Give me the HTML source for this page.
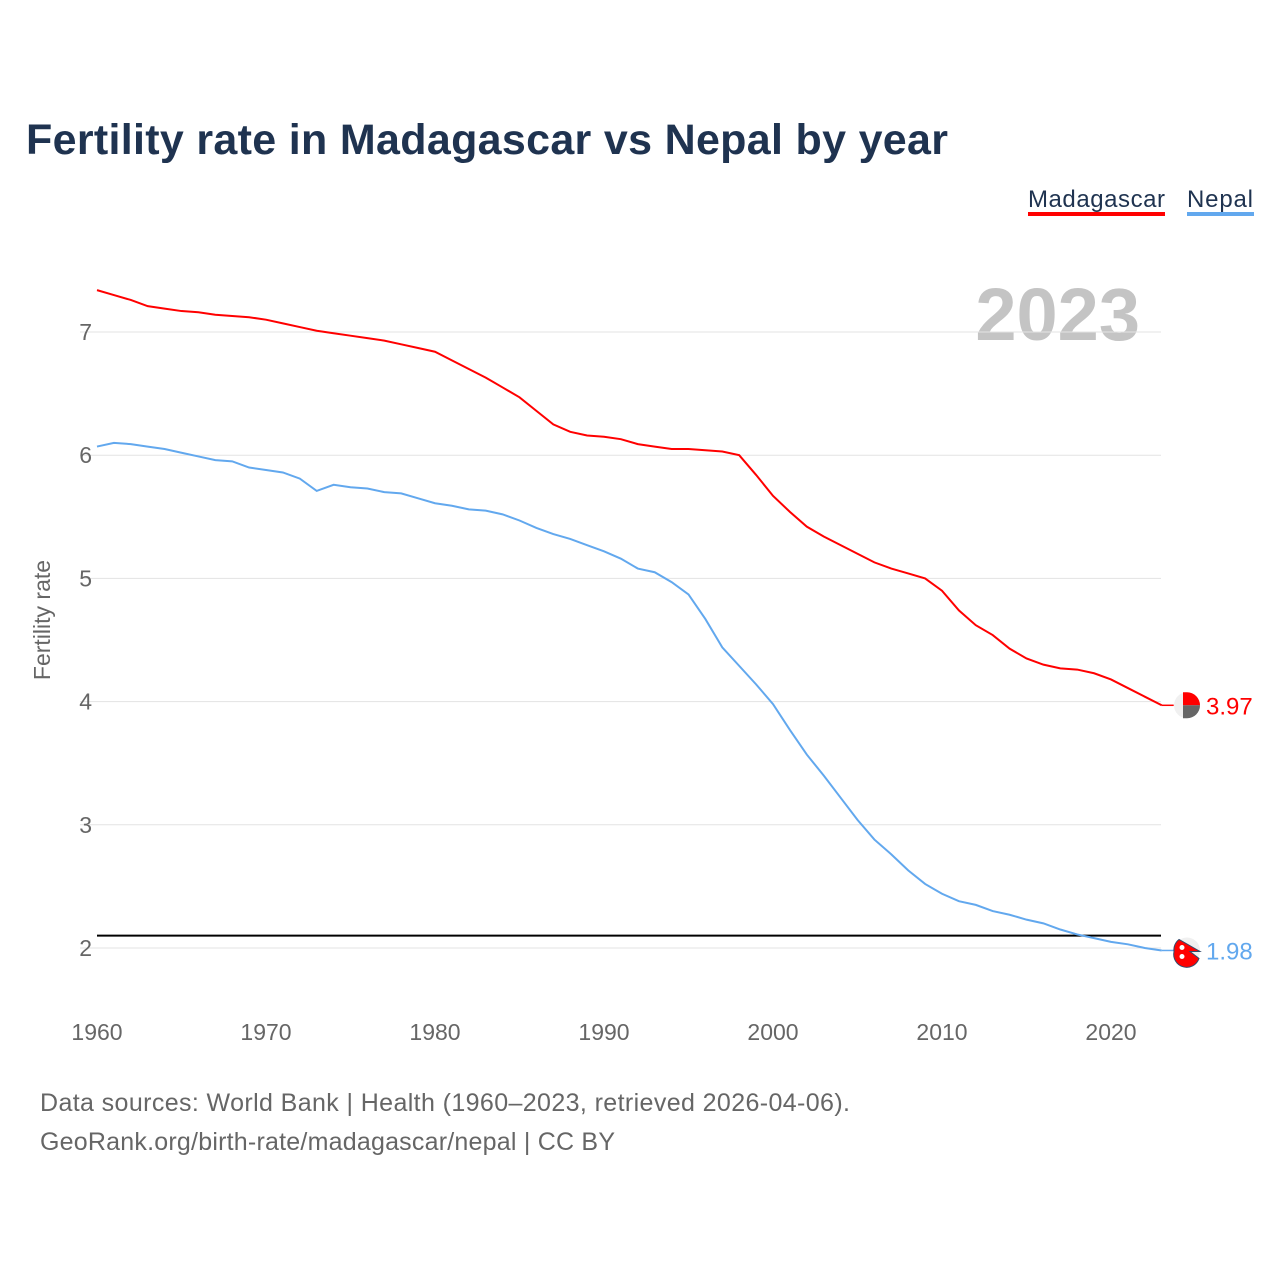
<!DOCTYPE html>
<html><head><meta charset="utf-8"><style>
body{margin:0;background:#fff;width:1280px;height:1280px;overflow:hidden;font-family:"Liberation Sans",sans-serif}
svg text{font-family:"Liberation Sans",sans-serif}
</style></head><body>
<svg id="chart" width="1280" height="1280">
<text x="26" y="154" font-size="43" font-weight="bold" fill="#1f3350" textLength="922">Fertility rate in Madagascar vs Nepal by year</text>
<g>
<text x="1028" y="207" font-size="24" fill="#1f3350" textLength="137">Madagascar</text>
<rect x="1028" y="212" width="137" height="4" fill="#ff0000"/>
<text x="1187" y="207" font-size="24" fill="#1f3350" textLength="66">Nepal</text>
<rect x="1187" y="212" width="67" height="4" fill="#62a8ee"/>
</g>
<text x="1140" y="340" font-size="74" font-weight="bold" fill="#c4c4c4" text-anchor="end">2023</text>
<g id="grid"></g><g id="lines"></g>
<text transform="translate(50,620) rotate(-90)" font-size="23" fill="#666" text-anchor="middle">Fertility rate</text>
<text x="40" y="1111" font-size="25" fill="#666" textLength="810">Data sources: World Bank | Health (1960–2023, retrieved 2026-04-06).</text>
<text x="40" y="1150" font-size="25" fill="#666" textLength="575">GeoRank.org/birth-rate/madagascar/nepal | CC BY</text>
</svg>
<script>
const years=[];for(let y=1960;y<=2023;y++)years.push(y);
const madagascar=[7.34,7.30,7.26,7.21,7.19,7.17,7.16,7.14,7.13,7.12,7.10,7.07,7.04,7.01,6.99,6.97,6.95,6.93,6.90,6.87,6.84,6.77,6.70,6.63,6.55,6.47,6.36,6.25,6.19,6.16,6.15,6.13,6.09,6.07,6.05,6.05,6.04,6.03,6.00,5.84,5.67,5.54,5.42,5.34,5.27,5.20,5.13,5.08,5.04,5.00,4.90,4.74,4.62,4.54,4.43,4.35,4.30,4.27,4.26,4.23,4.18,4.11,4.04,3.97];
const nepal=[6.07,6.10,6.09,6.07,6.05,6.02,5.99,5.96,5.95,5.90,5.88,5.86,5.81,5.71,5.76,5.74,5.73,5.70,5.69,5.65,5.61,5.59,5.56,5.55,5.52,5.47,5.41,5.36,5.32,5.27,5.22,5.16,5.08,5.05,4.97,4.87,4.67,4.44,4.29,4.14,3.98,3.77,3.57,3.40,3.22,3.04,2.88,2.76,2.63,2.52,2.44,2.38,2.35,2.30,2.27,2.23,2.20,2.15,2.11,2.08,2.05,2.03,2.00,1.98];
const yTicks=[2,3,4,5,6,7];
const xTicks=[1960,1970,1980,1990,2000,2010,2020];
const replacement=2.1;
const X=y=>97+(y-1960)*(1014/60);
const Y=v=>948-(v-2)*123.2;
const NS="http://www.w3.org/2000/svg";
const grid=document.getElementById('grid'),lines=document.getElementById('lines');
function mk(tag,attrs,parent){const e=document.createElementNS(NS,tag);for(const k in attrs)e.setAttribute(k,attrs[k]);parent.appendChild(e);return e;}
yTicks.forEach(t=>{
 const l=mk('line',{x1:80,x2:1161,y1:Y(t),y2:Y(t),stroke:'#e3e3e3','stroke-width':1},grid);
 
 
 const tx=mk('text',{x:92,y:Y(t)+8,'font-size':23,fill:'#666','text-anchor':'end'},grid);tx.textContent=t;
 
 
});
xTicks.forEach(t=>{
 const tx=mk('text',{x:X(t),y:1040,'font-size':23,fill:'#666','text-anchor':'middle'},grid);tx.textContent=t;
 
 
});
const rl=mk('line',{x1:97,x2:1161,y1:Y(replacement),y2:Y(replacement),stroke:'#000','stroke-width':2},lines);


function series(vals,color,name){
 const p=mk('polyline',{points:vals.map((v,i)=>X(years[i])+','+Y(v)).join(' '),fill:'none',stroke:color,'stroke-width':2},lines);
 
 
 const last=vals[vals.length-1],x=X(years[years.length-1]),y=Y(last);
 mk('line',{x1:x,x2:x+12,y1:y,y2:y,stroke:color,'stroke-width':1.5},lines);
 const c=mk('circle',{cx:1187,cy:y,r:13,fill:'#f0f0f0'},lines);
 
 
 const t=mk('text',{x:1206,y:y+9,'font-size':24,fill:color},lines);t.textContent=last.toFixed(2);
 
 
 return y;
}
const ym=series(madagascar,'#ff0000','madagascar');
mk('path',{d:`M1183 ${ym-13} L1187 ${ym-13} A13 13 0 0 1 1200 ${ym} L1183 ${ym} Z`,fill:'#ff0000'},lines);
mk('path',{d:`M1183 ${ym} L1200 ${ym} A13 13 0 0 1 1187 ${ym+13} L1183 ${ym+13} Z`,fill:'#666'},lines);
const yn=series(nepal,'#62a8ee','nepal');
mk('path',{d:`M1179 ${yn-11} L1200 ${yn+1} L1190 ${yn+1} L1199 ${yn+8} A13 13 0 0 1 1174 ${yn+1} A13 13 0 0 1 1179 ${yn-11} Z`,fill:'#ff0000',stroke:'#334a6b','stroke-width':1},lines);
mk('circle',{cx:1182,cy:yn-3,r:2.5,fill:'#fff'},lines);
mk('circle',{cx:1182,cy:yn+6,r:2.5,fill:'#fff'},lines);
</script>
</body></html>
